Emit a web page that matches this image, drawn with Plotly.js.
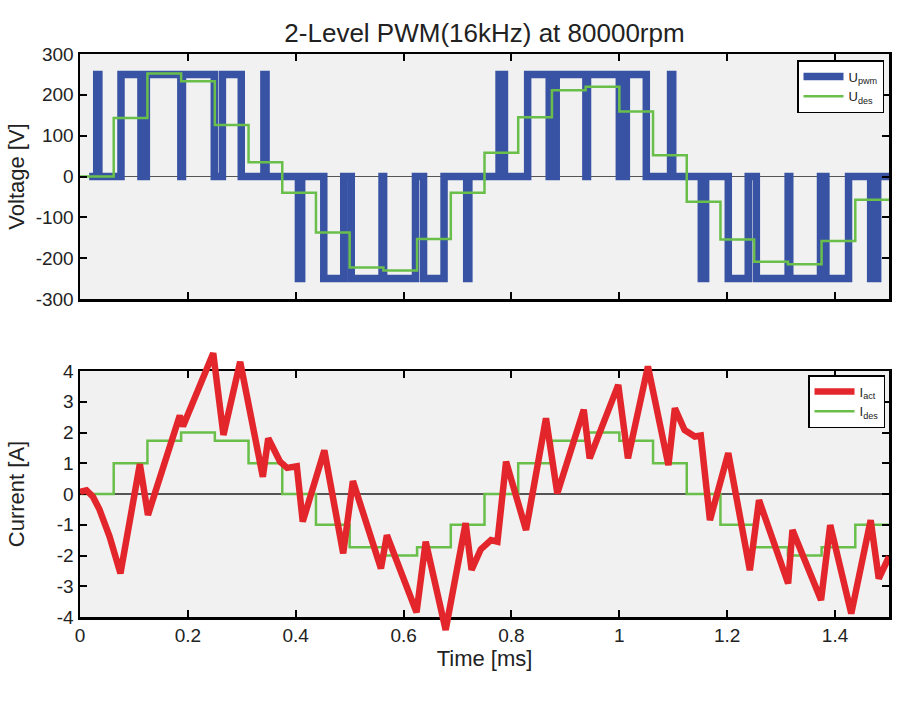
<!DOCTYPE html>
<html>
<head>
<meta charset="utf-8">
<script src="https://cdn.plot.ly/plotly-3.0.1.min.js"></script>
<style>
  html, body { margin: 0; padding: 0; background: #fff; }
  #chart { width: 900px; height: 728px; }
</style>
</head>
<body>
<div id="chart"></div>
<script>
// tick labels
const timeTicks = [0, 0.2, 0.4, 0.6, 0.8, 1, 1.2, 1.4];
const voltTicks = [-300, -200, -100, 0, 100, 200, 300];
const currTicks = [-4, -3, -2, -1, 0, 1, 2, 3, 4];

// desired values, one per PWM period (16 kHz -> 0.0625 ms), last value repeated to close the stair
const desT = [0, 0.0625, 0.125, 0.1875, 0.25, 0.3125, 0.375, 0.4375, 0.5, 0.5625, 0.625, 0.6875,
  0.75, 0.8125, 0.875, 0.9375, 1, 1.0625, 1.125, 1.1875, 1.25, 1.3125, 1.375, 1.4375, 1.5];
const uDes = [0, 143, 252, 233, 126, 35, -40, -137, -223, -230, -153, -40,
  58, 145, 211, 220, 159, 52, -62, -154, -209, -215, -158, -57, -57];
const iDes = [0, 1, 1.73, 2, 1.73, 1, 0, -1, -1.73, -2, -1.73, -1,
  0, 1, 1.73, 2, 1.73, 1, 0, -1, -1.73, -2, -1.73, -1, -1];

// switching instants of the inverter leg and the level after each one
const pwmT = [0.017, 0.031, 0.035, 0.076, 0.113, 0.123, 0.187, 0.190, 0.249, 0.264, 0.299, 0.341, 0.345,
  0.405, 0.411, 0.452, 0.489, 0.503, 0.560, 0.563, 0.622, 0.637, 0.675, 0.717, 0.721,
  0.777, 0.787, 0.830, 0.870, 0.883, 0.938, 0.941, 1.000, 1.013, 1.050, 1.095, 1.099,
  1.152, 1.160, 1.202, 1.239, 1.254, 1.313, 1.316, 1.373, 1.383, 1.425, 1.466, 1.479, 1.5];
const pwmU = [0, 250, 0, 250, 0, 250, 0, 250, 0, 250, 0, 250, 0,
  -250, 0, -250, 0, -250, 0, -250, 0, -250, 0, -250, 0,
  250, 0, 250, 0, 250, 0, 250, 0, 250, 0, 250, 0,
  -250, 0, -250, 0, -250, 0, -250, 0, -250, 0, -250, 0, 0];

// measured phase current
const actT = [0, 0.012, 0.024, 0.036, 0.055, 0.067, 0.075, 0.111, 0.126, 0.185, 0.191, 0.247, 0.266, 0.297,
  0.339, 0.349, 0.371, 0.384, 0.402, 0.413, 0.453, 0.488, 0.506, 0.558, 0.569, 0.624, 0.641, 0.678,
  0.715, 0.726, 0.743, 0.762, 0.774, 0.790, 0.827, 0.864, 0.885, 0.934, 0.945, 0.998, 1.016, 1.053,
  1.091, 1.103, 1.121, 1.140, 1.151, 1.168, 1.202, 1.242, 1.259, 1.313, 1.321, 1.374, 1.391, 1.430,
  1.466, 1.481, 1.5];
const iAct = [0.07, 0.12, -0.09, -0.5, -1.39, -2.1, -2.58, 0.97, -0.68, 2.55, 2.2, 4.58, 1.92, 4.3,
  0.56, 1.81, 1.05, 0.85, 0.9, -0.9, 1.42, -1.93, 0.42, -2.42, -1.34, -3.85, -1.55, -4.42,
  -0.95, -2.47, -1.8, -1.5, -1.55, 1.05, -1.17, 2.46, 0.02, 2.74, 1.16, 3.55, 1.16, 4.15,
  0.94, 2.79, 2.08, 1.87, 1.9, -0.85, 1.33, -2.48, -0.2, -2.91, -1.17, -3.45, -1.01, -3.89,
  -0.85, -2.75, -2.04];

const W = 900, H = 728;
const M = { l: 80, r: 11, t: 54, b: 88 };
const FONT = "Liberation Sans, Arial, Helvetica, sans-serif";
const BLUE = "#3953a4", GREEN = "#6abf4b", RED = "#e3262b", PANEL = "#f1f1f1";

// paper fraction from a pixel row
function fy(py) { return (H - M.b - py) / (H - M.t - M.b); }

// current axes box in pixels, and a taller invisible box so the red
// spikes may run past the frame like in the original
const curTop = 371, curBot = 617, extTop = 340, extBot = 640;
const aPerPx = 8 / (curBot - curTop);

function boxAxis(extra) {
  return Object.assign({
    showline: true, mirror: "ticks", linecolor: "#000", linewidth: 2.5,
    ticks: "inside", ticklen: 7, tickwidth: 2, tickcolor: "#000",
    showgrid: false, zeroline: false,
    tickfont: { family: FONT, size: 19, color: "#222" },
  }, extra);
}

const traces = [
  {
    x: pwmT, y: pwmU, type: "scatter", mode: "lines", name: "U<sub>pwm</sub>",
    line: { color: BLUE, width: 7.5, shape: "hv" }, xaxis: "x", yaxis: "y", legend: "legend",
  },
  {
    x: desT, y: uDes, type: "scatter", mode: "lines", name: "U<sub>des</sub>",
    line: { color: GREEN, width: 2.5, shape: "hv" }, xaxis: "x", yaxis: "y", legend: "legend",
  },
  {
    x: desT, y: iDes, type: "scatter", mode: "lines", name: "I<sub>des</sub>", legendrank: 2,
    line: { color: GREEN, width: 2.5, shape: "hv" }, xaxis: "x2", yaxis: "y2", legend: "legend2",
  },
  {
    x: actT, y: iAct, type: "scatter", mode: "lines", name: "I<sub>act</sub>", legendrank: 1,
    line: { color: RED, width: 6.5 }, xaxis: "x3", yaxis: "y3", legend: "legend2",
  },
];

const legendBase = {
  xanchor: "right", yanchor: "top",
  bgcolor: "#fff", bordercolor: "#000", borderwidth: 1.5,
  font: { family: FONT, size: 13, color: "#222" },
  tracegroupgap: 0, itemwidth: 40,
};

const layout = {
  width: W, height: H,
  margin: M,
  paper_bgcolor: "#fff",
  plot_bgcolor: "rgba(0,0,0,0)",
  font: { family: FONT, color: "#222" },
  showlegend: true,
  hovermode: false,
  title: {
    text: "2-Level PWM(16kHz) at 80000rpm",
    font: { family: FONT, size: 26, color: "#222" },
    xref: "container", yref: "container",
    x: 484.5 / W, y: 1 - 33 / H, xanchor: "center", yanchor: "middle",
  },
  xaxis: boxAxis({
    domain: [0, 1], range: [0, 1.5], anchor: "y",
    tickvals: timeTicks, showticklabels: false,
  }),
  yaxis: boxAxis({
    domain: [fy(299), fy(54)], range: [-300, 300], anchor: "x",
    tickvals: voltTicks, ticktext: voltTicks.map(String),
    zeroline: true, zerolinecolor: "#555", zerolinewidth: 1.5,
    title: { text: "Voltage [V]", font: { family: FONT, size: 22, color: "#222" }, standoff: 5 },
  }),
  xaxis2: boxAxis({
    domain: [0, 1], range: [0, 1.5], anchor: "y2",
    tickvals: timeTicks, ticktext: timeTicks.map(String),
    title: { text: "Time [ms]", font: { family: FONT, size: 22, color: "#222" }, standoff: 4 },
  }),
  yaxis2: boxAxis({
    domain: [fy(curBot), fy(curTop)], range: [-4, 4], anchor: "x2",
    tickvals: currTicks, ticktext: currTicks.map(String),
    zeroline: true, zerolinecolor: "#555", zerolinewidth: 1.5,
    title: { text: "Current [A]", font: { family: FONT, size: 22, color: "#222" }, standoff: 26 },
  }),
  xaxis3: { domain: [0, 1], range: [0, 1.5], anchor: "y3", visible: false },
  yaxis3: {
    domain: [fy(extBot), fy(extTop)], anchor: "x3", visible: false,
    range: [-4 - (extBot - curBot) * aPerPx, 4 + (curTop - extTop) * aPerPx],
  },
  legend: Object.assign({ x: (884 - M.l) / (W - M.l - M.r), y: fy(60) }, legendBase),
  legend2: Object.assign({ x: (885 - M.l) / (W - M.l - M.r), y: fy(375) }, legendBase),
  shapes: [
    { type: "rect", xref: "x domain", yref: "y domain", x0: 0, x1: 1, y0: 0, y1: 1,
      fillcolor: PANEL, line: { width: 0 }, layer: "below" },
    { type: "rect", xref: "x2 domain", yref: "y2 domain", x0: 0, x1: 1, y0: 0, y1: 1,
      fillcolor: PANEL, line: { width: 0 }, layer: "below" },
  ],
};

Plotly.newPlot("chart", traces, layout, { displayModeBar: false, staticPlot: true });
</script>
</body>
</html>
